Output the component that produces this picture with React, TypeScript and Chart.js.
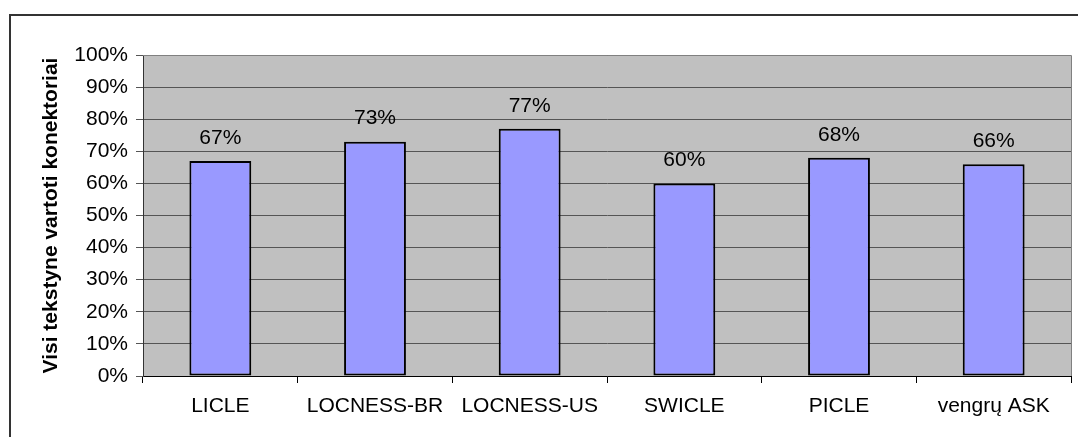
import React, { useEffect, useRef } from "react";
import { Chart, registerables } from "chart.js";

Chart.register(...registerables);

const categories = ["LICLE", "LOCNESS-BR", "LOCNESS-US", "SWICLE", "PICLE", "vengrų ASK"];
const values = [67, 73, 77, 60, 68, 66];
const yTicks = [0, 10, 20, 30, 40, 50, 60, 70, 80, 90, 100];
const yTitle = "Visi tekstyne vartoti konektoriai";

const FONT = "'Liberation Sans', Arial, sans-serif";

const plotBg = {
  id: "plotBg",
  beforeDraw(chart: any) {
    const { ctx, chartArea } = chart;
    ctx.save();
    ctx.fillStyle = "#C0C0C0";
    ctx.fillRect(chartArea.left, chartArea.top, chartArea.right - chartArea.left, chartArea.bottom - chartArea.top);
    ctx.restore();
  },
  afterDraw(chart: any) {
    const { ctx, chartArea } = chart;
    ctx.save();
    ctx.strokeStyle = "#808080";
    ctx.lineWidth = 1;
    ctx.beginPath();
    ctx.moveTo(chartArea.left, chartArea.top + 0.5);
    ctx.lineTo(chartArea.right + 0.5, chartArea.top + 0.5);
    ctx.lineTo(chartArea.right + 0.5, chartArea.bottom);
    ctx.stroke();
    ctx.restore();
  },
};

const valueLabels = {
  id: "valueLabels",
  afterDatasetsDraw(chart: any) {
    const { ctx } = chart;
    const meta = chart.getDatasetMeta(0);
    ctx.save();
    ctx.fillStyle = "#000";
    ctx.font = `21px ${FONT}`;
    ctx.textAlign = "center";
    ctx.textBaseline = "middle";
    meta.data.forEach((bar: any, i: number) => {
      ctx.fillText(values[i] + "%", bar.x, bar.y - 23);
    });
    ctx.restore();
  },
};

export default function App() {
  const ref = useRef<HTMLCanvasElement>(null);
  useEffect(() => {
    if (!ref.current) return;
    const chart = new Chart(ref.current, {
      type: "bar",
      data: {
        labels: categories,
        datasets: [
          {
            data: values,
            backgroundColor: "#9999FF",
            borderColor: "#000000",
            borderWidth: 2,
            borderSkipped: false,
            categoryPercentage: 1,
            barPercentage: 0.4,
          },
        ],
      },
      options: {
        responsive: false,
        animation: false,
        devicePixelRatio: 1,
        layout: { padding: { top: 55, right: 7, bottom: 0, left: 0 } },
        plugins: { legend: { display: false }, tooltip: { enabled: false } },
        scales: {
          x: {
            offset: true,
            grid: {
              offset: true,
              drawOnChartArea: false,
              drawTicks: true,
              tickLength: 7,
              color: "#000",
            },
            border: { color: "#000", width: 1 },
            ticks: {
              color: "#000",
              font: { family: FONT, size: 21 },
              padding: 11,
              maxRotation: 0,
              autoSkip: false,
            },
            afterFit(scale: any) {
              scale.height = 61;
            },
          },
          y: {
            min: 0,
            max: 100,
            afterBuildTicks(scale: any) {
              scale.ticks = yTicks.map((v) => ({ value: v }));
            },
            grid: { color: "#555555", lineWidth: 1, tickLength: 7 },
            border: { color: "#333", width: 1 },
            ticks: {
              color: "#000",
              font: { family: FONT, size: 21 },
              padding: 8,
              callback: (v: any) => v + "%",
            },
            title: {
              display: true,
              text: yTitle,
              color: "#000",
              font: { family: FONT, size: 21, weight: "bold" },
              padding: { top: 39, bottom: 0 },
            },
            afterFit(scale: any) {
              scale.width = 143;
            },
          },
        },
      },
      plugins: [plotBg, valueLabels],
    });
    return () => chart.destroy();
  }, []);

  return (
    <div style={{ position: "fixed", left: 0, top: 0, width: 1078, height: 437, background: "#fff", overflow: "hidden" }}>
      <div
        style={{
          position: "absolute",
          left: 9,
          top: 14,
          width: 1200,
          height: 600,
          borderLeft: "2px solid #333",
          borderTop: "2px solid #333",
        }}
      />
      <canvas ref={ref} width={1078} height={437} style={{ position: "absolute", left: 0, top: 0 }} />
    </div>
  );
}
